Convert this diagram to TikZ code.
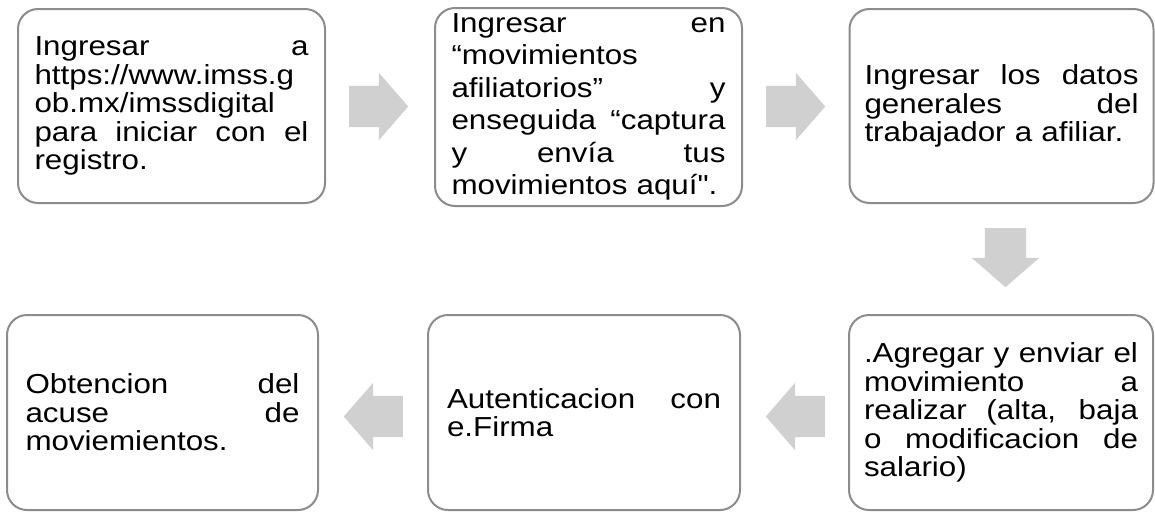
\documentclass[tikz,border=0pt]{standalone}
\usepackage{fontspec}
\newfontfamily\boxfont[FakeStretch=1.14,Ligatures={TeXOff,CommonOff}]{Liberation Sans}
\usetikzlibrary{shapes.arrows,calc}
\definecolor{boxline}{RGB}{140,140,140}
\definecolor{arrowfill}{RGB}{208,208,208}
\newcommand\jline[1]{\makebox[274pt][s]{\spaceskip=0pt\relax\xspaceskip=0pt\relax #1}}
\begin{document}
\begin{tikzpicture}[x=1pt,y=-1pt,
  flowbox/.style={draw=boxline, line width=2pt, rounded corners=20pt,
    inner sep=0pt, text width=274pt, align=left,
    font=\boxfont\fontsize{27.5pt}{28.5pt}\selectfont,
    minimum height=194pt},
  blockarrow/.style={single arrow, fill=arrowfill, draw=none,
    minimum height=59pt, minimum width=67pt,
    single arrow head extend=13pt, single arrow tip angle=98,
    inner xsep=0pt, inner ysep=20.5pt, anchor=tail}]
\useasboundingbox (0,0) rectangle (1155,512);

\node[flowbox, minimum width=307pt] (a1) at (171.5,106)
  {\jline{Ingresar a}\\https://www.imss.g\\ob.mx/imssdigital\\\jline{para iniciar con el}\\registro.};
\node[flowbox, minimum width=307pt, minimum height=198pt,
      font=\boxfont\fontsize{27.5pt}{32.5pt}\selectfont] (a2) at (588.5,107)
  {\jline{Ingresar en}\\“movimientos\\\jline{afiliatorios” y}\\\jline{enseguida “captura}\\\jline{y envía tus}\\movimientos aquí".};
\node[flowbox, minimum width=304pt] (a3) at (1001.5,106)
  {\jline{Ingresar los datos}\\\jline{generales del}\\trabajador a afiliar.};

\node[flowbox, minimum width=311pt, minimum height=195pt] (b1) at (162.5,412.5)
  {\jline{Obtencion del}\\\jline{acuse de}\\moviemientos.};
\node[flowbox, minimum width=312pt, minimum height=195pt] (b2) at (584,412.5)
  {\jline{Autenticacion con}\\e.Firma};
\node[flowbox, minimum width=304pt, minimum height=195pt] (b3) at (1001,412.5)
  {\jline{.Agregar y enviar el}\\\jline{movimiento a}\\\jline{realizar (alta, baja}\\\jline{o modificacion de}\\salario)};

\node[blockarrow] (r1) at ($(a1.east)+(23,0.5)$) {};
\node[blockarrow] (r2) at ($(a2.east)+(23,-0.5)$) {};
\node[blockarrow, rotate=-90] (d1) at ($(a3.south)+(4,24)$) {};
\node[blockarrow, rotate=180] (l1) at ($(b3.west)+(-23,4)$) {};
\node[blockarrow, rotate=180] (l2) at ($(b2.west)+(-24,4)$) {};
\end{tikzpicture}
\end{document}
